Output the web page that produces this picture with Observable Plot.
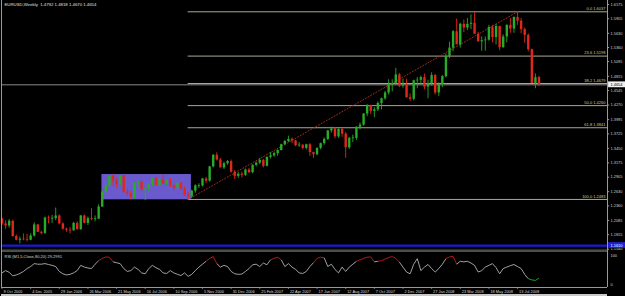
<!DOCTYPE html>
<html><head><meta charset="utf-8">
<script src="https://cdn.jsdelivr.net/npm/d3@7"></script>
<script src="https://cdn.jsdelivr.net/npm/@observablehq/plot@0.6"></script>
<style>
html,body{margin:0;padding:0;background:#000;width:625px;height:296px;overflow:hidden}
#c svg{display:block}
</style></head><body><div id="c"></div>
<script>
const titleText = "EURUSD,Weekly  1.4792 1.4818 1.4670 1.4654";
const rsiTitle = "RSI (M1,5,Close,80,20) 29.2991";
// weekly bars, first bar = week of 9 Oct 2005
const opens = [1.2110,1.2020,1.1980,1.2070,1.1780,1.1710,1.1730,1.1720,1.1710,1.1790,1.2000,1.1860,1.1840,1.2130,1.2120,1.2120,1.2170,1.2020,1.1920,1.1900,
1.1890,1.2030,1.1910,1.2170,1.2030,1.2120,1.2110,1.2110,1.2340,1.2620,1.2740,1.2920,1.2830,1.2760,1.2930,1.2620,1.2600,1.2520,1.2790,1.2810,
1.2670,1.2680,1.2760,1.2880,1.2750,1.2850,1.2770,1.2840,1.2730,1.2690,1.2790,1.2680,1.2560,1.2530,1.2640,1.2740,1.2740,1.2870,1.2830,1.3100,
1.3320,1.3230,1.3080,1.3160,1.3200,1.3000,1.2920,1.2960,1.2940,1.3040,1.2990,1.3130,1.3170,1.3220,1.3110,1.3280,1.3310,1.3350,1.3410,1.3520,
1.3580,1.3620,1.3590,1.3500,1.3510,1.3450,1.3520,1.3370,1.3330,1.3450,1.3540,1.3620,1.3780,1.3820,1.3670,1.3810,1.3720,1.3460,1.3640,1.3640,
1.3850,1.3890,1.4100,1.4260,1.4150,1.4180,1.4300,1.4390,1.4500,1.4650,1.4680,1.4840,1.4630,1.4650,1.4410,1.4380,1.4730,1.4740,1.4790,1.4610,
1.4680,1.4830,1.4500,1.4660,1.4810,1.5190,1.5350,1.5660,1.5410,1.5800,1.5730,1.5800,1.5820,1.5610,1.5470,1.5490,1.5500,1.5740,1.5550,1.5760,
1.5360,1.5560,1.5780,1.5710,1.5930,1.5860,1.5700,1.5590,1.5320,1.4680,1.4792];
const highs = [1.2130,1.2080,1.2100,1.2090,1.1810,1.1770,1.1830,1.1820,1.1830,1.2040,1.2010,1.1880,1.2150,1.2170,1.2180,1.2320,1.2190,1.2040,1.1940,1.1950,
1.2050,1.2060,1.2180,1.2190,1.2150,1.2310,1.2170,1.2380,1.2640,1.2780,1.2940,1.2960,1.2880,1.2940,1.2960,1.2680,1.2640,1.2800,1.2840,1.2830,
1.2690,1.2780,1.2890,1.2900,1.2880,1.2950,1.2860,1.2880,1.2760,1.2810,1.2800,1.2720,1.2620,1.2660,1.2760,1.2780,1.2880,1.2900,1.3110,1.3330,
1.3367,1.3260,1.3190,1.3220,1.3230,1.3030,1.2990,1.3000,1.3060,1.3070,1.3140,1.3190,1.3260,1.3240,1.3290,1.3370,1.3380,1.3420,1.3530,1.3600,
1.3682,1.3650,1.3600,1.3560,1.3520,1.3530,1.3540,1.3380,1.3460,1.3550,1.3650,1.3790,1.3852,1.3840,1.3820,1.3830,1.3750,1.3660,1.3700,1.3860,
1.3930,1.4110,1.4280,1.4270,1.4220,1.4330,1.4400,1.4530,1.4750,1.4750,1.4966,1.4870,1.4760,1.4760,1.4480,1.4740,1.4790,1.4820,1.4860,1.4740,
1.4880,1.4850,1.4690,1.4830,1.5240,1.5460,1.5680,1.5900,1.5820,1.5880,1.5910,1.5980,1.6018,1.5650,1.5560,1.5560,1.5780,1.5780,1.5800,1.5760,
1.5600,1.5790,1.5910,1.5940,1.6037,1.5910,1.5730,1.5620,1.5330,1.4860,1.4818];
const lows = [1.1990,1.1920,1.1940,1.1770,1.1700,1.1640,1.1700,1.1680,1.1700,1.1770,1.1860,1.1810,1.1820,1.2020,1.2030,1.2080,1.2000,1.1900,1.1860,1.1830,
1.1880,1.1900,1.1900,1.2020,1.1990,1.2080,1.2060,1.2100,1.2330,1.2580,1.2720,1.2730,1.2700,1.2750,1.2600,1.2550,1.2470,1.2480,1.2690,1.2630,
1.2460,1.2620,1.2720,1.2740,1.2730,1.2760,1.2740,1.2710,1.2650,1.2650,1.2650,1.2540,1.2483,1.2500,1.2600,1.2690,1.2720,1.2780,1.2810,1.3080,
1.3210,1.3080,1.3050,1.3130,1.2980,1.2860,1.2880,1.2890,1.2920,1.2970,1.2970,1.3100,1.3140,1.3080,1.3100,1.3250,1.3280,1.3300,1.3400,1.3500,
1.3560,1.3540,1.3480,1.3470,1.3420,1.3420,1.3300,1.3260,1.3310,1.3420,1.3510,1.3600,1.3740,1.3630,1.3640,1.3660,1.3260,1.3430,1.3560,1.3600,
1.3800,1.3870,1.4050,1.4090,1.4030,1.4150,1.4180,1.4360,1.4460,1.4520,1.4650,1.4600,1.4590,1.4400,1.4340,1.4350,1.4580,1.4660,1.4560,1.4390,
1.4630,1.4460,1.4430,1.4600,1.4780,1.5150,1.5280,1.5470,1.5350,1.5640,1.5680,1.5700,1.5640,1.5460,1.5290,1.5290,1.5480,1.5450,1.5410,1.5300,
1.5340,1.5450,1.5630,1.5630,1.5780,1.5620,1.5440,1.5280,1.4680,1.4580,1.4620];
const closes = [1.2020,1.1980,1.2070,1.1780,1.1710,1.1730,1.1720,1.1710,1.1790,1.2000,1.1860,1.1840,1.2130,1.2120,1.2120,1.2170,1.2020,1.1920,1.1900,1.1890,
1.2030,1.1910,1.2170,1.2030,1.2120,1.2110,1.2110,1.2340,1.2620,1.2740,1.2920,1.2830,1.2760,1.2930,1.2620,1.2600,1.2520,1.2790,1.2810,1.2670,
1.2680,1.2760,1.2880,1.2750,1.2850,1.2770,1.2840,1.2730,1.2690,1.2790,1.2680,1.2560,1.2530,1.2640,1.2740,1.2740,1.2870,1.2830,1.3100,1.3320,
1.3230,1.3080,1.3160,1.3200,1.3000,1.2920,1.2960,1.2940,1.3040,1.2990,1.3130,1.3170,1.3220,1.3110,1.3280,1.3310,1.3350,1.3410,1.3520,1.3580,
1.3620,1.3590,1.3500,1.3510,1.3450,1.3520,1.3370,1.3330,1.3450,1.3540,1.3620,1.3780,1.3820,1.3670,1.3810,1.3720,1.3460,1.3640,1.3640,1.3850,
1.3890,1.4100,1.4260,1.4150,1.4180,1.4300,1.4390,1.4500,1.4650,1.4680,1.4840,1.4630,1.4650,1.4410,1.4380,1.4730,1.4740,1.4790,1.4610,1.4680,
1.4830,1.4500,1.4660,1.4810,1.5190,1.5350,1.5660,1.5410,1.5800,1.5730,1.5800,1.5820,1.5610,1.5470,1.5490,1.5500,1.5740,1.5550,1.5760,1.5360,
1.5560,1.5780,1.5710,1.5930,1.5860,1.5700,1.5590,1.5320,1.4680,1.4790,1.4654];
const rsiValues = [40,48,42,30,33,38,45,55,62,72,70,70,72,69,66,62,45,37,33,35,
40,48,66,60,57,55,70,82,90,95,94,78,75,72,55,45,48,60,52,40,
37,55,66,58,52,40,38,48,40,35,31,40,28,35,48,60,70,80,90,96,
72,60,66,62,45,37,35,36,45,55,68,70,62,74,68,85,90,94,85,62,
72,60,52,40,38,45,62,75,90,94,92,62,70,52,40,60,45,60,70,80,
85,90,94,95,78,80,82,88,93,96,90,77,60,43,37,70,89,48,60,69,
55,43,55,70,89,95,97,70,80,78,80,74,66,43,48,60,66,72,58,37,
55,60,65,69,62,55,35,20,16,14,22];
const priceTicks = [1.6175,1.5905,1.5630,1.5360,1.5095,1.4815,1.4545,1.4270,1.3995,1.3725,1.3450,1.3175,1.2905,1.2630,1.2360,1.2085,1.1815,1.1540];
const dateLabels = ["9 Oct 2005","4 Dec 2005","29 Jan 2006","26 Mar 2006","21 May 2006","16 Jul 2006","10 Sep 2006","5 Nov 2006","31 Dec 2006","25 Feb 2007","22 Apr 2007","17 Jun 2007","12 Aug 2007","7 Oct 2007","2 Dec 2007","27 Jan 2008","23 Mar 2008","18 May 2008","13 Jul 2008"];
const dateLabelBars = [0,8,16,24,32,40,48,56,64,72,80,88,96,104,112,120,128,136,144];
const fibLevels = ["0.0","23.6","38.2","50.0","61.8","100.0"];
const fibPrices = [1.6037,1.5198,1.4679,1.4260,1.3841,1.2483];
const fibStartBar = [52];
const boxBars = [27.9, 52.9];
const boxPrices = [1.2476, 1.2955];
const trendBars = [52, 144];
const trendPrices = [1.2483, 1.6037];
const bidPrice = [1.4654];
const bluePrice = [1.1610];
const rsiLevelLabels = [100, 0];

const W = 625, H1 = 250, H2 = 46;
const xDomain = [-0.14, 169.13];
const xEnd = xDomain[1];
const font = "Liberation Sans, Arial, sans-serif";

const candles = opens.map((o, i) => {
  const c = closes[i];
  let b1 = o, b2 = c;
  if (Math.abs(o - c) < 0.0012) { const m = (o + c) / 2; b1 = m - 0.0007; b2 = m + 0.0007; }
  return {i, o, h: highs[i], l: lows[i], c, b1, b2, col: c >= o ? "#28ac28" : "#e0281a"};
});
const fibs = fibPrices.map((p, k) => ({p, label: fibLevels[k] + " " + p.toFixed(4)}));
const trend = trendBars.map((b, k) => ({b, p: trendPrices[k]}));

const main = Plot.plot({
  width: W, height: H1, marginLeft: 1, marginRight: 18, marginTop: 0, marginBottom: 0,
  x: {domain: xDomain, axis: null},
  y: {domain: [1.1516, 1.6251], axis: null},
  style: {background: "#000", fontFamily: font},
  marks: [
    Plot.rect([0], {x1: boxBars[0], x2: boxBars[1], y1: boxPrices[0], y2: boxPrices[1], fill: "#6A5ACD"}),
    Plot.ruleY(bluePrice, {stroke: "#1a1ad0", strokeWidth: 2.2}),
    Plot.ruleY(fibs, {y: "p", x1: fibStartBar[0], x2: xEnd, stroke: "#a8a898", strokeWidth: 1}),
    Plot.ruleY(bidPrice, {stroke: "#8a8a8a", strokeWidth: 1}),
    Plot.line(trend, {x: "b", y: "p", stroke: "#b8301e", strokeWidth: 0.9, strokeDasharray: "1,2"}),
    Plot.ruleX(candles, {x: "i", y1: "l", y2: "h", stroke: "col", strokeWidth: 0.9}),
    Plot.ruleX(candles, {x: "i", y1: "b1", y2: "b2", stroke: "col", strokeWidth: 2.4}),
    Plot.text(fibs, {x: xEnd, y: "p", text: "label", textAnchor: "end", dx: -2, dy: -3, fill: "#cccc90", fontSize: 4}),
    Plot.ruleX([xDomain[0]], {stroke: "#9a9a9a"}),
    Plot.ruleX([xEnd], {stroke: "#9a9a9a"}),
    Plot.ruleY([1.1521], {stroke: "#9a9a9a"}),
    Plot.ruleY(priceTicks, {x1: xEnd, x2: xEnd + 0.6, stroke: "#9a9a9a"}),
    Plot.text(priceTicks, {x: xEnd, y: d => d, text: d => d.toFixed(4), textAnchor: "start", dx: 3, fill: "#d0d0d0", fontSize: 3.9}),
    Plot.rect(bidPrice, {x1: xEnd + 0.3, x2: xEnd + 5.2, y1: d => d - 0.0055, y2: d => d + 0.0055, fill: "#f0f0f0"}),
    Plot.text(bidPrice, {x: xEnd, y: d => d, text: d => d.toFixed(4), textAnchor: "start", dx: 3, fill: "#000", fontSize: 3.9}),
    Plot.rect(bluePrice, {x1: xEnd + 0.3, x2: xEnd + 5.2, y1: d => d - 0.0055, y2: d => d + 0.0055, fill: "#2020d8"}),
    Plot.text(bluePrice, {x: xEnd, y: d => d, text: d => d.toFixed(4), textAnchor: "start", dx: 3, fill: "#fff", fontSize: 3.9}),
    Plot.text([titleText], {frameAnchor: "top-left", dx: 3, dy: 2, textAnchor: "start", lineAnchor: "top", fill: "#e0e0e0", fontSize: 4.3})
  ]
});

const rsiPts = rsiValues.map((v, i) => ({i, v}));
const rsiSegs = d3.pairs(rsiPts).map(([a, b]) => {
  const m = (a.v + b.v) / 2;
  return {x1: a.i, y1: a.v, x2: b.i, y2: b.v, col: m >= 80 ? "#e02020" : m <= 20 ? "#30c030" : "#c8c8c8"};
});
const dl = dateLabels.map((t, k) => ({t, b: dateLabelBars[k]}));

const rsi = Plot.plot({
  width: W, height: H2, marginLeft: 1, marginRight: 18, marginTop: 5, marginBottom: 12,
  x: {domain: xDomain, axis: null},
  y: {domain: [0, 100], axis: null},
  style: {background: "#000", fontFamily: font, overflow: "visible"},
  marks: [
    Plot.link(rsiSegs, {x1: "x1", y1: "y1", x2: "x2", y2: "y2", stroke: "col", strokeWidth: 0.8}),
    Plot.ruleX([xDomain[0]], {y1: -10.3, y2: 117, stroke: "#9a9a9a"}),
    Plot.ruleX([xEnd], {y1: -10.3, y2: 117, stroke: "#9a9a9a"}),
    Plot.ruleY([115.5], {stroke: "#9a9a9a"}),
    Plot.ruleY([-10.3], {stroke: "#9a9a9a"}),
    Plot.text(rsiLevelLabels, {x: xEnd, y: d => d, text: d => String(d), textAnchor: "start", dx: 3, fill: "#d0d0d0", fontSize: 3.9}),
    Plot.text([rsiTitle], {x: xDomain[0], y: 100, textAnchor: "start", dx: 3, dy: 1, fill: "#d8d8d8", fontSize: 4}),
    Plot.ruleX(dl, {x: "b", y1: -10.3, y2: -17, stroke: "#9a9a9a", strokeWidth: 0.8}),
    Plot.text(dl, {x: "b", y: -24, text: "t", textAnchor: "start", dx: 1.5, fill: "#d8d8d8", fontSize: 3.9}),
    Plot.ruleY([-38], {stroke: "#c8c8c8", strokeWidth: 3})
  ]
});

const c = document.getElementById("c");
c.appendChild(main);
c.appendChild(rsi);
</script>
</body></html>
